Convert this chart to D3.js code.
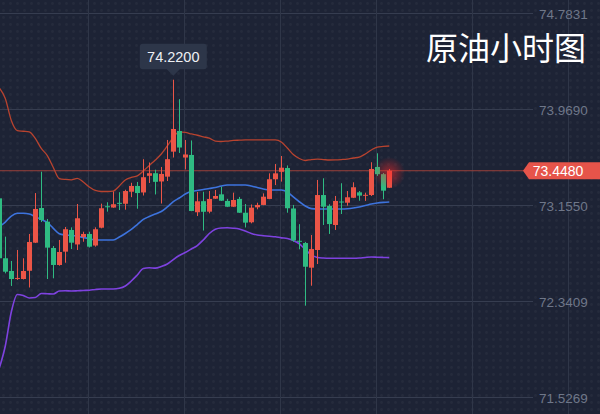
<!DOCTYPE html>
<html><head><meta charset="utf-8">
<script src="https://cdn.jsdelivr.net/npm/d3@7/dist/d3.min.js"></script>
<style>html,body{margin:0;padding:0;background:#1d2335;}svg{display:block;}</style>
</head><body>
<svg id="chart" width="600" height="414"></svg>
<script>
// ---- data ----
const categories = d3.range(-1, 65); // hourly bar index
const open  = [73.214,72.706,72.598,72.534,72.530,72.600,72.838,73.132,73.016,72.793,72.649,72.762,72.946,72.823,72.886,72.912,72.814,72.965,73.147,73.136,73.176,73.168,73.270,73.319,73.264,73.405,73.427,73.357,73.398,73.610,73.785,73.560,73.582,73.096,73.190,73.101,73.211,73.248,73.192,73.143,73.209,73.092,73.011,73.138,73.158,73.209,73.376,73.439,73.471,73.128,72.854,72.835,72.626,72.776,73.242,73.149,72.988,73.187,73.177,73.219,73.265,73.239,73.242,73.480,73.419,73.304];
const high  = [73.234,72.889,72.683,72.776,72.706,72.912,73.259,73.440,73.039,72.810,72.861,72.971,72.968,73.166,72.931,72.931,72.968,73.169,73.181,73.272,73.266,73.287,73.346,73.353,73.546,73.518,73.457,73.480,73.709,74.220,74.055,73.709,73.705,73.268,73.270,73.276,73.285,73.313,73.209,73.262,73.226,73.166,73.162,73.177,73.256,73.426,73.505,73.573,73.493,73.158,72.995,72.844,72.903,73.370,73.384,73.164,73.234,73.342,73.276,73.350,73.276,73.262,73.520,73.596,73.429,73.463];
const low   = [72.691,72.578,72.471,72.522,72.526,72.458,72.835,73.013,72.530,72.536,72.643,72.668,72.784,72.776,72.846,72.797,72.804,72.960,73.101,73.134,73.115,73.118,73.224,73.126,73.238,73.344,73.247,73.170,73.361,73.560,73.599,73.459,73.105,73.064,72.941,73.087,73.209,73.192,73.141,73.141,73.090,72.967,73.002,73.121,73.156,73.207,73.327,73.356,73.092,72.846,72.782,72.304,72.473,72.657,72.988,72.912,72.946,73.081,73.152,73.217,73.194,73.192,73.234,73.404,73.206,73.302];
const close = [72.706,72.592,72.530,72.539,72.598,72.844,73.124,73.030,72.796,72.649,72.759,72.952,72.838,73.045,72.912,72.804,72.952,73.130,73.142,73.164,73.172,73.276,73.319,73.259,73.393,73.427,73.354,73.421,73.546,73.802,73.645,73.586,73.107,73.189,73.100,73.209,73.234,73.194,73.143,73.200,73.092,73.008,73.135,73.158,73.228,73.376,73.426,73.474,73.130,72.857,72.850,72.634,72.784,73.242,73.143,72.996,73.192,73.183,73.223,73.308,73.237,73.244,73.463,73.419,73.279,73.448];
const upper = [74.150,74.061,73.874,73.788,73.783,73.777,73.722,73.637,73.577,73.476,73.382,73.374,73.371,73.384,73.353,73.310,73.281,73.272,73.272,73.276,73.319,73.370,73.391,73.404,73.446,73.493,73.539,73.590,73.658,73.730,73.777,73.773,73.760,73.749,73.736,73.724,73.700,73.696,73.700,73.705,73.707,73.709,73.709,73.709,73.709,73.709,73.709,73.692,73.641,73.586,73.552,73.535,73.543,73.546,73.543,73.539,73.540,73.543,73.547,73.556,73.564,73.590,73.624,73.649,73.654,73.658];
const middle = [72.975,73.013,73.064,73.087,73.087,73.081,73.058,73.035,73.009,72.960,72.914,72.903,72.899,72.892,72.882,72.872,72.861,72.861,72.861,72.861,72.886,72.916,72.950,72.992,73.035,73.060,73.081,73.102,73.141,73.187,73.217,73.251,73.272,73.281,73.289,73.298,73.306,73.319,73.327,73.327,73.327,73.327,73.319,73.306,73.293,73.285,73.285,73.285,73.268,73.226,73.185,73.149,73.127,73.124,73.124,73.124,73.124,73.124,73.126,73.132,73.141,73.153,73.166,73.175,73.180,73.183];
const lower = [71.775,71.962,72.250,72.399,72.390,72.369,72.373,72.407,72.405,72.403,72.428,72.430,72.428,72.430,72.433,72.435,72.441,72.445,72.445,72.445,72.451,72.471,72.513,72.564,72.619,72.625,72.622,72.636,72.657,72.695,72.729,72.755,72.784,72.814,72.861,72.916,72.952,72.963,72.964,72.961,72.954,72.937,72.916,72.903,72.897,72.892,72.888,72.879,72.874,72.857,72.829,72.780,72.734,72.713,72.708,72.706,72.706,72.706,72.706,72.706,72.708,72.713,72.717,72.715,72.713,72.711];
const yTicks = [74.7831, 73.9690, 73.1550, 72.3409, 71.5269];
const lastPrice = 73.4480;
const peakLabel = "74.2200";
const title = "原油小时图";

// ---- layout ----
const W = 600, H = 414;
const svg = d3.select("#chart");
const x = d3.scaleLinear().domain([-1, 64]).range([-0.7, 389.3]);
const y = d3.scaleLinear().domain([71.5269, 74.7831]).range([397.3, 13.3]);
const UP = "#eb5547", DOWN = "#2fbb82";

const defs = svg.append("defs");
const pat = defs.append("pattern").attr("id","dots").attr("width",7).attr("height",7).attr("patternUnits","userSpaceOnUse");
pat.append("circle").attr("cx",3.5).attr("cy",3.5).attr("r",1.4).attr("fill","#ffffff").attr("opacity",0.035);
const glow = defs.append("radialGradient").attr("id","glow");
glow.append("stop").attr("offset","0%").attr("stop-color","#ff2a2a").attr("stop-opacity",0.55);
glow.append("stop").attr("offset","100%").attr("stop-color","#ff2a2a").attr("stop-opacity",0);

svg.append("rect").attr("width",W).attr("height",H).attr("fill","#1d2335");
svg.append("rect").attr("width",W).attr("height",H).attr("fill","url(#dots)");

// grid
const g = svg.append("g");
g.selectAll("line.h").data(yTicks).enter().append("line")
  .attr("x1",0).attr("x2",533).attr("y1",d=>Math.round(y(d))+0.5).attr("y2",d=>Math.round(y(d))+0.5)
  .attr("stroke","#363d50").attr("stroke-width",1);
g.selectAll("line.v").data(d3.range(88, W, 96)).enter().append("line")
  .attr("x1",d=>d+0.5).attr("x2",d=>d+0.5).attr("y1",0).attr("y2",H)
  .attr("stroke","#2f3648").attr("stroke-width",1);

// axis labels (right, inside)
const axis = d3.axisRight(y).tickValues(yTicks).tickSize(0).tickPadding(0).tickFormat(d3.format(".4f"));
const ax = svg.append("g").attr("transform","translate(539,0)").call(axis);
ax.select(".domain").remove();
ax.selectAll("text").attr("fill","#6f7789").attr("font-family","'Liberation Sans', Arial, sans-serif").attr("font-size",13.5).attr("dy","0.36em").attr("x",0).attr("text-anchor","start");

// current price line
svg.append("line").attr("x1",0).attr("x2",524).attr("y1",y(lastPrice)).attr("y2",y(lastPrice))
  .attr("stroke","#9a3f3a").attr("stroke-width",1);

// bands
const idx = categories.map((c,i)=>i);
const lineGen = arr => d3.line().x(i=>x(categories[i])).y(i=>y(arr[i])).curve(d3.curveMonotoneX)(idx);
svg.append("path").attr("d",lineGen(upper)).attr("fill","none").attr("stroke","#b8432f").attr("stroke-width",1.3);
svg.append("path").attr("d",lineGen(middle)).attr("fill","none").attr("stroke","#3d73dd").attr("stroke-width",1.6);
svg.append("path").attr("d",lineGen(lower)).attr("fill","none").attr("stroke","#7e42df").attr("stroke-width",1.6);

// candles
const bw = 5;
const cg = svg.append("g");
idx.forEach(i=>{
  const up = close[i] >= open[i];
  const col = up ? UP : DOWN;
  const cx = Math.round(x(categories[i]));
  cg.append("line").attr("x1",cx+0.5).attr("x2",cx+0.5).attr("y1",y(high[i])).attr("y2",y(low[i])).attr("stroke",col).attr("stroke-width",1);
  const top = y(Math.max(open[i],close[i])), bot = y(Math.min(open[i],close[i]));
  cg.append("rect").attr("x",cx-2).attr("width",bw).attr("y",top).attr("height",Math.max(1,bot-top)).attr("fill",col);
});

// glow on last candle
const li = idx.length-1;
svg.append("circle").attr("cx",x(categories[li])).attr("cy",y(high[li])+4).attr("r",16).attr("fill","url(#glow)");

// last price tag
const ty = y(lastPrice);
svg.append("path").attr("d",`M523,${ty} L529,${ty-8.5} L600,${ty-8.5} L600,${ty+8.5} L529,${ty+8.5} Z`).attr("fill","#e6544a");
svg.append("text").attr("x",558).attr("y",ty).attr("dy","0.36em").attr("text-anchor","middle")
  .attr("fill","#ffffff").attr("font-family","'Liberation Sans', Arial, sans-serif").attr("font-size",14).text(lastPrice.toFixed(4));

// peak tooltip (highest high)
const pi = d3.maxIndex(high);
const px = x(categories[pi]);
const py = y(high[pi]);
const bx0 = px-33.5, bx1 = px+33.5, by0 = py-36, by1 = py-10.5;
svg.append("path").attr("d",`M${bx0+3},${by0} L${bx1-3},${by0} Q${bx1},${by0} ${bx1},${by0+3} L${bx1},${by1-3} Q${bx1},${by1} ${bx1-3},${by1} L${px+6.5},${by1} L${px},${by1+6.5} L${px-6.5},${by1} L${bx0+3},${by1} Q${bx0},${by1} ${bx0},${by1-3} L${bx0},${by0+3} Q${bx0},${by0} ${bx0+3},${by0} Z`)
  .attr("fill","#2d3649");
svg.append("text").attr("x",px).attr("y",(by0+by1)/2).attr("dy","0.36em").attr("text-anchor","middle")
  .attr("fill","#eef0f4").attr("font-family","'Liberation Sans', Arial, sans-serif").attr("font-size",14.5).text(peakLabel);

// title
svg.append("text").attr("x",586).attr("y",59.5).attr("text-anchor","end")
  .attr("fill","#ffffff").attr("font-family","'Noto Sans CJK SC', sans-serif").attr("font-size",32).text(title);
</script>
</body></html>
